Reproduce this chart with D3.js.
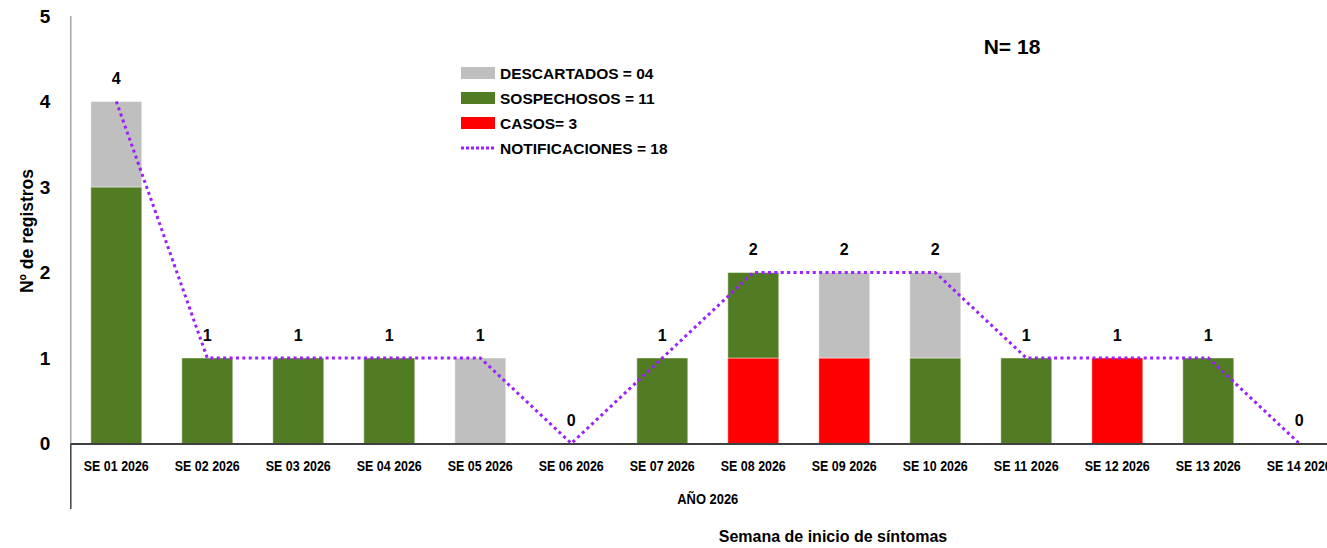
<!DOCTYPE html>
<html>
<head>
<meta charset="utf-8">
<script src="https://cdn.jsdelivr.net/npm/d3@7/dist/d3.min.js"></script>
<style>
  html, body { margin: 0; padding: 0; background: #fff; }
  svg { display: block; }
  text { font-family: "Liberation Sans", Arial, sans-serif; font-weight: bold; fill: #000; }
</style>
</head>
<body>
<svg id="chart" width="1327" height="548"></svg>
<script>
// ---- Data ----
const categories = ["SE 01 2026","SE 02 2026","SE 03 2026","SE 04 2026","SE 05 2026","SE 06 2026","SE 07 2026",
                    "SE 08 2026","SE 09 2026","SE 10 2026","SE 11 2026","SE 12 2026","SE 13 2026","SE 14 2026"];
const casos        = [0,0,0,0,0,0,0,1,1,0,0,1,0,0];
const sospechosos  = [3,1,1,1,0,0,1,1,0,1,1,0,1,0];
const descartados  = [1,0,0,0,1,0,0,0,1,1,0,0,0,0];
const notificaciones = [4,1,1,1,1,0,1,2,2,2,1,1,1,0];
const yTicks = [0,1,2,3,4,5];
const legendLabels = ["DESCARTADOS = 04","SOSPECHOSOS = 11","CASOS= 3","NOTIFICACIONES = 18"];
const totalLabel = "N= 18";
const groupLabel = "AÑO 2026";
const xTitle = "Semana de inicio de síntomas";
const yTitle = "Nº de registros";

// ---- Styles ----
const colors = { casos: "#ff0000", sospechosos: "#527c23", descartados: "#bfbfbf", line: "#9b1fff" };

const svg = d3.select("#chart");
const plotLeft = 70.8, plotBottom = 443.5, plotTop = 16;
const band = 91;

const x = d3.scaleBand().domain(categories).range([plotLeft, plotLeft + band * categories.length]).paddingInner(0.44).paddingOuter(0.22);
const y = d3.scaleLinear().domain([0, 5]).range([plotBottom, plotTop]);

// stacked data
const rows = categories.map((c, i) => ({ cat: c, casos: casos[i], sospechosos: sospechosos[i], descartados: descartados[i] }));
const keys = ["casos", "sospechosos", "descartados"];
const stack = d3.stack().keys(keys)(rows);

// y axis line (grey)
svg.append("line").attr("x1", plotLeft).attr("x2", plotLeft).attr("y1", y(5)).attr("y2", plotBottom)
  .attr("stroke", "#a6a6a6").attr("stroke-width", 1.5);

// y tick labels
svg.append("g").selectAll("text").data(yTicks).join("text")
  .attr("x", 45).attr("y", d => y(d)).attr("dy", "0.36em")
  .attr("text-anchor", "middle").style("font-size", "19px").text(d => d);

// bars
svg.append("g").selectAll("g").data(stack).join("g")
  .attr("fill", d => colors[d.key])
  .selectAll("rect").data(d => d).join("rect")
  .attr("x", d => x(d.data.cat))
  .attr("width", x.bandwidth())
  .attr("y", d => y(d[1]))
  .attr("height", d => y(d[0]) - y(d[1]))
  .attr("stroke", "rgba(255,255,255,0.45)").attr("stroke-width", 1);

// x axis line (dark) + lower multi-level box
svg.append("line").attr("x1", plotLeft).attr("x2", 1327).attr("y1", plotBottom + 0.5).attr("y2", plotBottom + 0.5)
  .attr("stroke", "#404040").attr("stroke-width", 2);
svg.append("line").attr("x1", plotLeft).attr("x2", plotLeft).attr("y1", plotBottom).attr("y2", 509)
  .attr("stroke", "#404040").attr("stroke-width", 1.5);

// x labels (condensed to mimic the narrow original face)
svg.append("g").selectAll("text").data(categories).join("text")
  .attr("x", d => x(d) + x.bandwidth() / 2).attr("y", 466).attr("dy", "0.36em")
  .attr("text-anchor", "middle").style("font-size", "14.5px")
  .attr("textLength", 65).attr("lengthAdjust", "spacingAndGlyphs")
  .text(d => d);

// group label
svg.append("text")
  .attr("x", plotLeft + band * categories.length / 2).attr("y", 499).attr("dy", "0.36em")
  .attr("text-anchor", "middle").style("font-size", "14.5px")
  .attr("textLength", 61).attr("lengthAdjust", "spacingAndGlyphs")
  .text(groupLabel);

// notifications line
const line = d3.line().x((d, i) => x(categories[i]) + x.bandwidth() / 2).y(d => y(d));
svg.append("path").datum(notificaciones).attr("d", line)
  .attr("fill", "none").attr("stroke", colors.line).attr("stroke-width", 3)
  .attr("stroke-dasharray", "3,3.4");

// data labels
svg.append("g").selectAll("text").data(notificaciones).join("text")
  .attr("x", (d, i) => x(categories[i]) + x.bandwidth() / 2)
  .attr("y", d => y(d) - 23).attr("dy", "0.36em")
  .attr("text-anchor", "middle").style("font-size", "16px").text(d => d);

// legend
const lg = svg.append("g");
const legendKeys = ["descartados", "sospechosos", "casos", "line"];
legendKeys.forEach((k, i) => {
  const yy = 73 + i * 25;
  if (k === "line") {
    lg.append("line").attr("x1", 461).attr("x2", 495).attr("y1", yy).attr("y2", yy)
      .attr("stroke", colors.line).attr("stroke-width", 3).attr("stroke-dasharray", "3,2");
  } else {
    lg.append("rect").attr("x", 461).attr("y", yy - 6).attr("width", 34).attr("height", 12).attr("fill", colors[k]);
  }
  lg.append("text").attr("x", 500).attr("y", yy).attr("dy", "0.36em").style("font-size", "15.5px").text(legendLabels[i]);
});

// N label
svg.append("text").attr("x", 1012).attr("y", 46).attr("dy", "0.36em").attr("text-anchor", "middle")
  .style("font-size", "21px").text(totalLabel);

// axis titles
svg.append("text").attr("x", 833).attr("y", 536).attr("dy", "0.36em").attr("text-anchor", "middle")
  .style("font-size", "16px").text(xTitle);
svg.append("text").attr("transform", "translate(27,231) rotate(-90)").attr("dy", "0.36em")
  .attr("text-anchor", "middle").style("font-size", "17.5px").text(yTitle);
</script>
</body>
</html>
